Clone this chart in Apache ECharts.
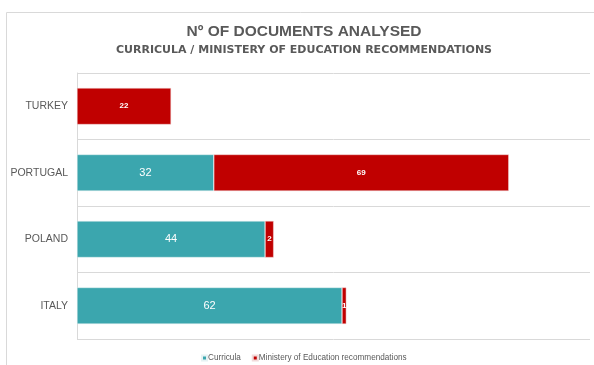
<!DOCTYPE html>
<html>
<head>
<meta charset="utf-8">
<script src="https://cdn.jsdelivr.net/npm/echarts@6/dist/echarts.min.js"></script>
<style>
  html, body { margin: 0; padding: 0; background: #fff; }
  #chart { width: 594px; height: 365px; }
</style>
</head>
<body>
<div id="chart"></div>
<script>
// Documents analysed per country, stacked by document type
const countries = ['TURKEY', 'PORTUGAL', 'POLAND', 'ITALY'];
const curricula = [null, 32, 44, 62];
const ministry = [22, 69, 2, 1];
const seriesNames = ['Curricula', 'Ministery of Education recommendations'];

const FONT = '"Liberation Sans", Arial, sans-serif';
const WIDE_FONT = '"DejaVu Sans", "Liberation Sans", sans-serif';
const TEXT_GRAY = '#595959';

const chart = echarts.init(document.getElementById('chart'));
chart.setOption({
  animation: false,
  textStyle: { fontFamily: FONT },
  graphic: [{
    type: 'rect',
    shape: { x: 6.5, y: 12.5, width: 620, height: 400 },
    style: { fill: 'none', stroke: '#d9d9d9', lineWidth: 1 },
    silent: true
  }],
  title: {
    text: 'Nº OF DOCUMENTS ANALYSED',
    subtext: 'CURRICULA / MINISTERY OF EDUCATION RECOMMENDATIONS',
    left: 304,
    textAlign: 'center',
    top: 24,
    padding: 0,
    itemGap: 5,
    textStyle: { fontFamily: FONT, fontSize: 15.5, fontWeight: 'bold', color: TEXT_GRAY },
    subtextStyle: { fontFamily: WIDE_FONT, fontSize: 11, fontWeight: 'bold', color: TEXT_GRAY }
  },
  legend: {
    bottom: 3,
    left: 196,
    padding: [0, 5],
    itemWidth: 5,
    itemHeight: 5,
    itemGap: 11,
    icon: 'rect',
    textStyle: { fontFamily: FONT, fontSize: 8.2, color: TEXT_GRAY, padding: [0, 0, 0, -4] },
    data: seriesNames
  },
  grid: { left: 77, top: 73, right: 4, bottom: 26, containLabel: false },
  xAxis: {
    type: 'value',
    min: 0,
    max: 120,
    show: false
  },
  yAxis: {
    type: 'category',
    inverse: true,
    data: countries,
    axisLine: { show: true, lineStyle: { color: '#d9d9d9', width: 1 } },
    axisTick: { show: false },
    splitLine: { show: true, lineStyle: { color: '#d9d9d9', width: 1 } },
    axisLabel: {
      fontFamily: FONT,
      fontSize: 10.5,
      color: TEXT_GRAY,
      margin: 9
    }
  },
  series: [
    {
      name: seriesNames[0],
      type: 'bar',
      stack: 'docs',
      barWidth: '55%',
      data: curricula,
      itemStyle: { color: '#3ba6ae', borderColor: '#e6f2f3', borderWidth: 0.5 },
      label: {
        show: true,
        position: 'inside',
        color: '#ffffff',
        fontFamily: FONT,
        fontSize: 11
      }
    },
    {
      name: seriesNames[1],
      type: 'bar',
      stack: 'docs',
      barWidth: '55%',
      data: ministry,
      itemStyle: { color: '#c00000', borderColor: '#f2dada', borderWidth: 0.5 },
      label: {
        show: true,
        position: 'inside',
        color: '#ffffff',
        fontFamily: FONT,
        fontSize: 8,
        fontWeight: 'bold'
      }
    }
  ]
});
</script>
</body>
</html>
